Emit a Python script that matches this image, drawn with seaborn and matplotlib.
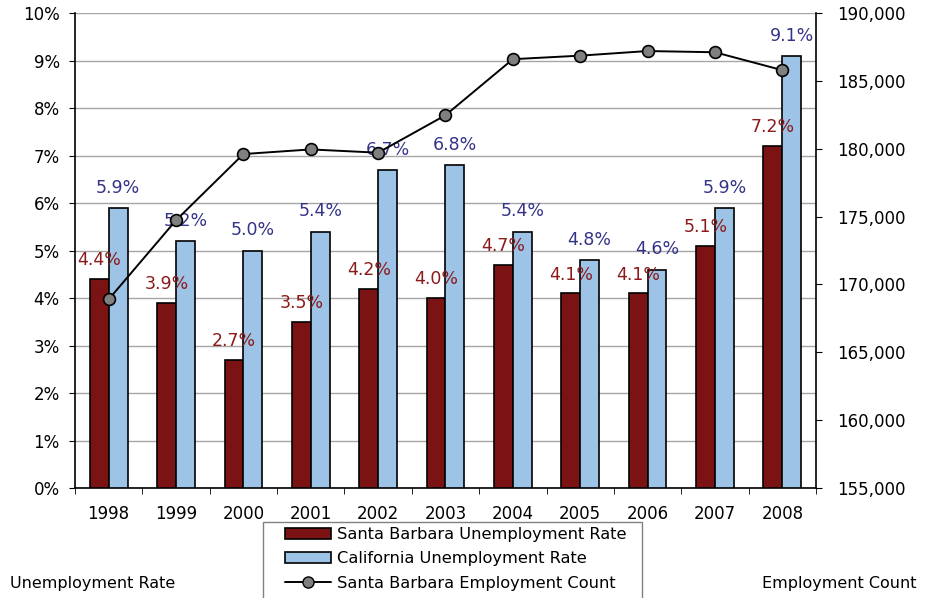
import matplotlib
matplotlib.use("Agg")
from matplotlib import pyplot as plt
from matplotlib.lines import Line2D
from matplotlib.patches import Patch, Rectangle
from matplotlib.ticker import FuncFormatter, MultipleLocator
import seaborn as sns
import numpy as np
import pandas as pd

years = ["1998", "1999", "2000", "2001", "2002", "2003",
         "2004", "2005", "2006", "2007", "2008"]
sb_rate = [4.4, 3.9, 2.7, 3.5, 4.2, 4.0, 4.7, 4.1, 4.1, 5.1, 7.2]
ca_rate = [5.9, 5.2, 5.0, 5.4, 6.7, 6.8, 5.4, 4.8, 4.6, 5.9, 9.1]
sb_employment = [168900, 174730, 179610, 179950, 179710, 182470,
                 186600, 186860, 187200, 187110, 185790]

SB_NAME = "Santa Barbara Unemployment Rate"
CA_NAME = "California Unemployment Rate"
EMP_NAME = "Santa Barbara Employment Count"

sb_color = "#7B1315"
ca_color = "#9DC3E6"

df = pd.DataFrame({
    "year": years * 2,
    "rate": sb_rate + ca_rate,
    "series": [SB_NAME] * len(years) + [CA_NAME] * len(years),
})

sns.set_style("white")
plt.rcParams["font.family"] = ["DejaVu Sans"]
plt.rcParams["text.color"] = "black"
plt.rcParams["xtick.color"] = "black"
plt.rcParams["ytick.color"] = "black"

fig = plt.figure(figsize=(9.36, 5.98), dpi=100)
ax = fig.add_axes([0.0801, 0.1839, 0.7917, 0.7943])

sns.barplot(
    data=df, x="year", y="rate", hue="series",
    palette=[sb_color, ca_color], width=0.56,
    edgecolor="black", linewidth=1.2, saturation=1,
    legend=False, ax=ax, zorder=3,
)

ax.set_ylim(0, 10)
ax.set_xlim(-0.5, len(years) - 0.5)
ax.yaxis.set_major_locator(MultipleLocator(1))
ax.yaxis.set_major_formatter(FuncFormatter(lambda v, p: f"{v:.0f}%"))
ax.grid(axis="y", color="#A6A6A6", linewidth=1, zorder=0)
ax.set_axisbelow(True)
ax.set_xlabel("")
ax.set_ylabel("")

# ticks between categories on x axis
ax.set_xticks(np.arange(len(years)))
ax.set_xticklabels(years)
ax.set_xticks(np.arange(len(years) + 1) - 0.5, minor=True)
ax.tick_params(axis="x", which="major", length=0, pad=12, labelsize=12)
ax.tick_params(axis="x", which="minor", length=4, direction="out", color="black")
ax.tick_params(axis="y", length=4, direction="out", color="black", labelsize=12, pad=7)
ax.yaxis.set_ticks_position("left")
ax.xaxis.set_ticks_position("bottom")

for side in ["top", "right"]:
    ax.spines[side].set_visible(False)
for side in ["left", "bottom"]:
    ax.spines[side].set_color("black")
    ax.spines[side].set_linewidth(1.2)

ax.bar_label(ax.containers[0], labels=[f"{v:.1f}%" for v in sb_rate],
             padding=7, color="#8B1A1A", fontsize=12.5)
ax.bar_label(ax.containers[1], labels=[f"{v:.1f}%" for v in ca_rate],
             padding=8, color="#333388", fontsize=12.5)

ax2 = ax.twinx()
sns.lineplot(x=np.arange(len(years)), y=sb_employment, ax=ax2,
             color="black", linewidth=1.4, marker="o", markersize=8.5,
             markerfacecolor="#808080", markeredgecolor="black",
             markeredgewidth=1.2, legend=False)
ax2.set_ylim(155000, 190000)
ax2.yaxis.set_major_locator(MultipleLocator(5000))
ax2.yaxis.set_major_formatter(FuncFormatter(lambda v, p: f"{v:,.0f}"))
ax2.tick_params(axis="y", length=4, direction="out", color="black", labelsize=12, pad=11)
for side in ["top", "left", "bottom"]:
    ax2.spines[side].set_visible(False)
ax2.spines["right"].set_color("black")
ax2.spines["right"].set_linewidth(1.2)
ax2.grid(False)

handles = [
    Patch(facecolor=sb_color, edgecolor="black", linewidth=1.2, label=SB_NAME),
    Patch(facecolor=ca_color, edgecolor="black", linewidth=1.2, label=CA_NAME),
    Line2D([0], [0], color="black", linewidth=1.4, marker="o", markersize=8,
           markerfacecolor="#808080", markeredgecolor="black", label=EMP_NAME),
]
leg = fig.legend(handles=handles, loc="upper left", bbox_to_anchor=(0.3045, 0.1187),
                 frameon=False, fontsize=11.7, handlelength=2.8,
                 handletextpad=0.4, labelspacing=0.58, borderpad=0,
                 borderaxespad=0)

# legend frame runs off the bottom edge as in the original
fig.add_artist(Rectangle((0.2812, -0.05), 0.405, 0.1771,
                         transform=fig.transFigure, fill=False,
                         edgecolor="#808080", linewidth=1))

fig.text(0.011, 0.025, "Unemployment Rate", fontsize=11.5, ha="left", va="center")
fig.text(0.979, 0.025, "Employment Count", fontsize=11.5, ha="right", va="center")

fig.savefig("out.png", dpi=100)
